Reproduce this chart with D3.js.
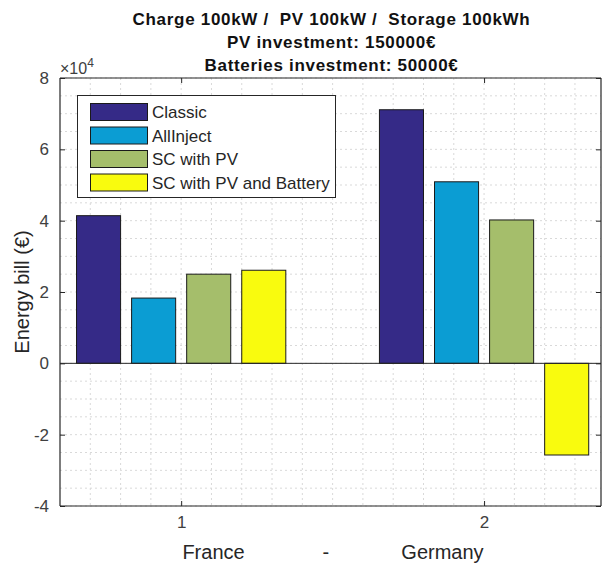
<!DOCTYPE html>
<html>
<head>
<meta charset="utf-8">
<script src="https://cdn.jsdelivr.net/npm/d3@7"></script>
<style>
  html, body { margin: 0; padding: 0; background: #fff; }
  svg { display: block; font-family: "Liberation Sans", Arial, Helvetica, sans-serif; }
</style>
</head>
<body>
<svg id="chart" width="602" height="566"></svg>
<script>
// ---- data ----
const groups = [1, 2];
const groupNames = ["France", "Germany"];
const seriesNames = ["Classic", "AllInject", "SC with PV", "SC with PV and Battery"];
const classic = [41400, 71100];
const allInject = [18300, 50900];
const scWithPV = [25000, 40200];
const scWithPVBattery = [26100, -25700];
const seriesColors = ["#352a87", "#0b9dd3", "#a5be6b", "#f9fb0e"];
const yTickValues = [-40000, -20000, 0, 20000, 40000, 60000, 80000];
const xTickValues = [1, 2];
const titleLines = ["Charge 100kW /  PV 100kW /  Storage 100kWh", "PV investment: 150000€", "Batteries investment: 50000€"];

const seriesValues = [classic, allInject, scWithPV, scWithPVBattery];

// ---- layout ----
const L = 60, R = 601, T = 78, B = 506;
const svg = d3.select("#chart");
const x = d3.scaleLinear().domain([0.6, 2.386]).range([L, R]);
const y = d3.scaleLinear().domain([-40000, 80000]).range([B, T]);
const axisColor = "#262626";
const labelColor = "#404040";

// grid (minor, dotted)
const gx = d3.range(7, 24).map(v => v / 10);
const gy = d3.range(-40000, 80001, 5000);
const grid = svg.append("g");
grid.selectAll("line.gx").data(gx).join("line")
  .attr("x1", d => x(d)).attr("x2", d => x(d)).attr("y1", T).attr("y2", B)
  .attr("stroke", "#d9d9d9").attr("stroke-width", 1).attr("stroke-dasharray", "2,3");
grid.selectAll("line.gy").data(gy).join("line")
  .attr("x1", L).attr("x2", R).attr("y1", d => y(d)).attr("y2", d => y(d))
  .attr("stroke", "#d9d9d9").attr("stroke-width", 1).attr("stroke-dasharray", "2,3");

// bars
const nS = seriesNames.length;
const groupWidth = Math.min(0.8, nS / (nS + 1.5));
const step = groupWidth / nS;
const barW = step * 0.8;
const barsG = svg.append("g");
seriesValues.forEach((vals, si) => {
  barsG.selectAll(null).data(vals.map((v, gi) => ({ v, g: groups[gi] }))).join("rect")
    .attr("x", d => x(d.g + (si - (nS - 1) / 2) * step - barW / 2))
    .attr("width", d => x(barW) - x(0))
    .attr("y", d => y(Math.max(0, d.v)))
    .attr("height", d => Math.abs(y(d.v) - y(0)))
    .attr("fill", seriesColors[si])
    .attr("stroke", "#1a1a1a").attr("stroke-width", 1);
});

// baseline
svg.append("line").attr("x1", L).attr("x2", R).attr("y1", y(0)).attr("y2", y(0))
  .attr("stroke", axisColor).attr("stroke-width", 1);

// axes
const yAxisL = d3.axisLeft(y).tickValues(yTickValues).tickSize(-5).tickPadding(11).tickFormat(d => d / 10000);
const gL = svg.append("g").attr("transform", `translate(${L},0)`).call(yAxisL);
const yAxisR = d3.axisRight(y).tickValues(yTickValues).tickSize(-5).tickFormat("");
const gR = svg.append("g").attr("transform", `translate(${R},0)`).call(yAxisR);
const xAxisB = d3.axisBottom(x).tickValues(xTickValues).tickSize(-5).tickPadding(10).tickFormat(d3.format("d"));
const gB = svg.append("g").attr("transform", `translate(0,${B})`).call(xAxisB);
const xAxisT = d3.axisTop(x).tickValues(xTickValues).tickSize(-5).tickFormat("");
const gT = svg.append("g").attr("transform", `translate(0,${T})`).call(xAxisT);
[gL, gR, gB, gT].forEach(g => {
  g.select(".domain").attr("stroke", axisColor).attr("stroke-width", 1.2);
  g.selectAll(".tick line").attr("stroke", axisColor);
  g.selectAll(".tick text").attr("fill", labelColor).style("font-size", "17px")
    .style("font-family", "'Liberation Sans', Arial, sans-serif");
});
gL.select(".domain").attr("d", `M0,${T}V${B}`);
gR.select(".domain").attr("d", `M0,${T}V${B}`);
gB.select(".domain").attr("d", `M${L},0H${R}`);
gT.select(".domain").attr("d", `M${L},0H${R}`);

// exponent
const ex = svg.append("text").attr("x", L).attr("y", 74).attr("fill", labelColor).style("font-size", "16px");
ex.append("tspan").text("×10");
ex.append("tspan").attr("dy", -7).style("font-size", "12px").text("4");

// y label
svg.append("text").attr("transform", `translate(29,${(T + B) / 2}) rotate(-90)`)
  .attr("text-anchor", "middle").attr("fill", "#262626").style("font-size", "20px")
  .text("Energy bill (€)");

// x label
svg.append("text").attr("x", 333).attr("y", 559).attr("text-anchor", "middle")
  .attr("fill", "#262626").style("font-size", "20px").style("white-space", "pre")
  .text(groupNames[0] + "              -             " + groupNames[1]);

// title
svg.append("g").selectAll("text").data(titleLines).join("text")
  .attr("x", (L + R) / 2 + 1).attr("y", (d, i) => 25 + i * 23)
  .attr("text-anchor", "middle").attr("fill", "#111").style("font-size", "17px").style("font-weight", "bold")
  .style("letter-spacing", "0.7px").style("white-space", "pre").text(d => d);

// legend
const lg = svg.append("g");
lg.append("rect").attr("x", 77.5).attr("y", 95.5).attr("width", 258).attr("height", 102)
  .attr("fill", "#fff").attr("stroke", axisColor).attr("stroke-width", 1);
seriesNames.forEach((name, i) => {
  const yy = 103 + i * 23.5;
  lg.append("rect").attr("x", 90.5).attr("y", yy + 0.5).attr("width", 57).attr("height", 17)
    .attr("fill", seriesColors[i]).attr("stroke", "#1a1a1a").attr("stroke-width", 1);
  lg.append("text").attr("x", 152).attr("y", yy + 15).attr("fill", "#262626").style("font-size", "17px").text(name);
});
</script>
</body>
</html>
